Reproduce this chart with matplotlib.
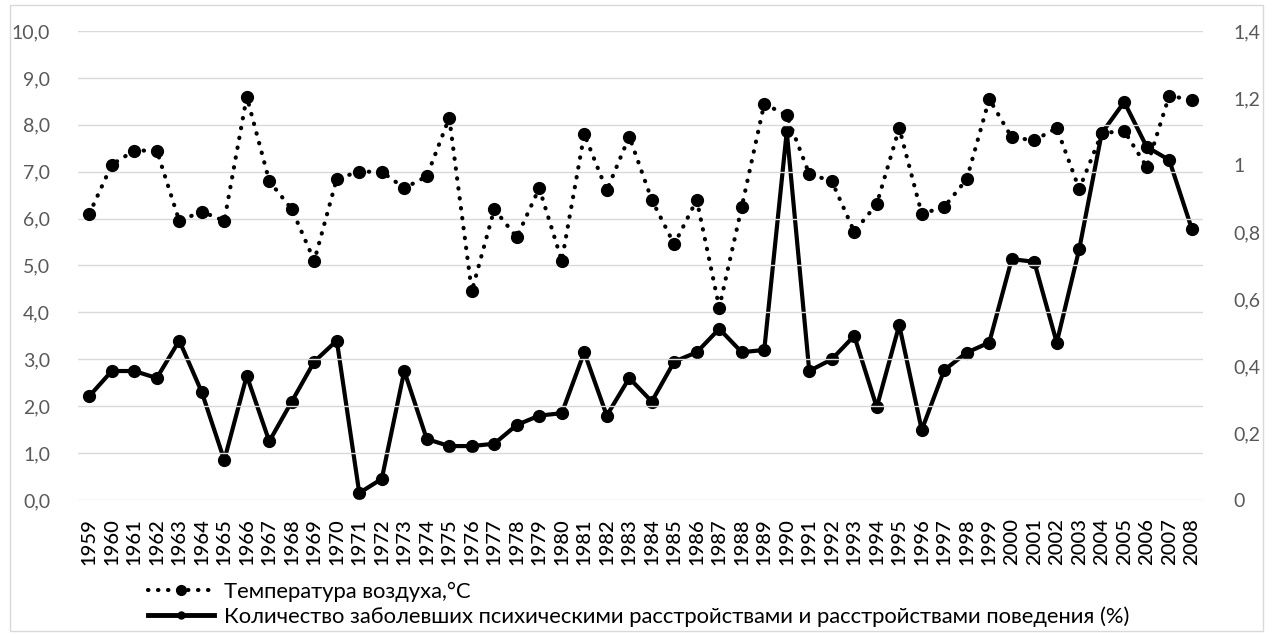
import matplotlib.pyplot as plt
import numpy as np
from matplotlib.patches import Rectangle
from matplotlib.lines import Line2D

# data
years = list(range(1959, 2009))
temperature = [6.1, 7.15, 7.45, 7.45, 5.95, 6.15, 5.95, 8.6, 6.8, 6.2,
               5.1, 6.85, 7.0, 7.0, 6.65, 6.9, 8.15, 4.45, 6.2, 5.6,
               6.65, 5.1, 7.8, 6.6, 7.75, 6.4, 5.45, 6.4, 4.1, 6.25,
               8.45, 8.2, 6.95, 6.8, 5.72, 6.31, 7.93, 6.1, 6.25, 6.84,
               8.55, 7.73, 7.67, 7.93, 6.63, 7.82, 7.87, 7.1, 8.62, 8.53]
disorders = [0.31, 0.385, 0.385, 0.364, 0.476, 0.322, 0.119, 0.371, 0.175, 0.294,
             0.413, 0.476, 0.021, 0.063, 0.385, 0.182, 0.161, 0.161, 0.168, 0.224,
             0.252, 0.259, 0.441, 0.252, 0.364, 0.294, 0.413, 0.441, 0.511, 0.441,
             0.448, 1.10, 0.385, 0.42, 0.49, 0.277, 0.522, 0.209, 0.388, 0.44,
             0.47, 0.719, 0.711, 0.47, 0.749, 1.095, 1.188, 1.054, 1.015, 0.81]
left_ticks = np.arange(0, 11, 1.0)
right_ticks = [0, 0.2, 0.4, 0.6, 0.8, 1.0, 1.2, 1.4]
right_labels = ['0', '0,2', '0,4', '0,6', '0,8', '1', '1,2', '1,4']
temp_label = 'Температура воздуха,°C'
dis_label = 'Количество заболевших психическими расстройствами и расстройствами поведения (%)'

plt.rcParams['font.family'] = ['Lato', 'DejaVu Sans']

fig = plt.figure(figsize=(12.73, 6.35), dpi=100)
ax = fig.add_axes([0.0613, 0.2126, 0.8837, 0.7386])
ax2 = ax.twinx()

x = np.arange(len(years))
dotted = dict(linestyle=(0, (0.1, 2.3)), dash_capstyle='round')

ax2.plot(x, disorders, color='black', lw=3, marker='o', ms=8.5, zorder=3)
ax.plot(x, temperature, color='black', lw=3, marker='o', ms=8.5, zorder=3, **dotted)
ax.set_zorder(ax2.get_zorder() + 1)
ax.patch.set_visible(False)

ax.set_xlim(-0.5, len(years) - 0.5)
ax.set_ylim(0, 10)
ax2.set_ylim(0, 1.4)
ax.set_yticks(left_ticks)
ax.set_yticklabels([f'{v:.1f}'.replace('.', ',') for v in left_ticks])
ax2.set_yticks(right_ticks)
ax2.set_yticklabels(right_labels)
ax.set_xticks(x)
ax.set_xticklabels([str(y) for y in years], rotation=90, fontsize=14.5,
                   color='black', fontweight='medium')

for a in (ax, ax2):
    for s in a.spines.values():
        s.set_visible(False)
    a.tick_params(length=0)
ax.tick_params(axis='y', labelsize=14, labelcolor='#595959', pad=20)
ax2.tick_params(axis='y', labelsize=14, labelcolor='#595959', pad=22)
ax.tick_params(axis='x', pad=13)
ax.grid(axis='y', color='#d9d9d9', lw=1)
ax.set_axisbelow(True)

handles = [Line2D([], [], color='black', lw=3, marker='o', ms=7, **dotted),
           Line2D([], [], color='black', lw=3.5, marker='o', ms=5)]
fig.legend(handles, [temp_label, dis_label], loc='upper left',
           bbox_to_anchor=(0.116, 0.084), frameon=False, fontsize=15.8,
           handlelength=3.0, handletextpad=0.5, labelspacing=0.2,
           borderaxespad=0, borderpad=0)

fig.add_artist(Rectangle((0.008, 0.007), 0.984, 0.985, transform=fig.transFigure,
                         fill=False, edgecolor='#d9d9d9', lw=1))

fig.savefig('out.png', dpi=100)
